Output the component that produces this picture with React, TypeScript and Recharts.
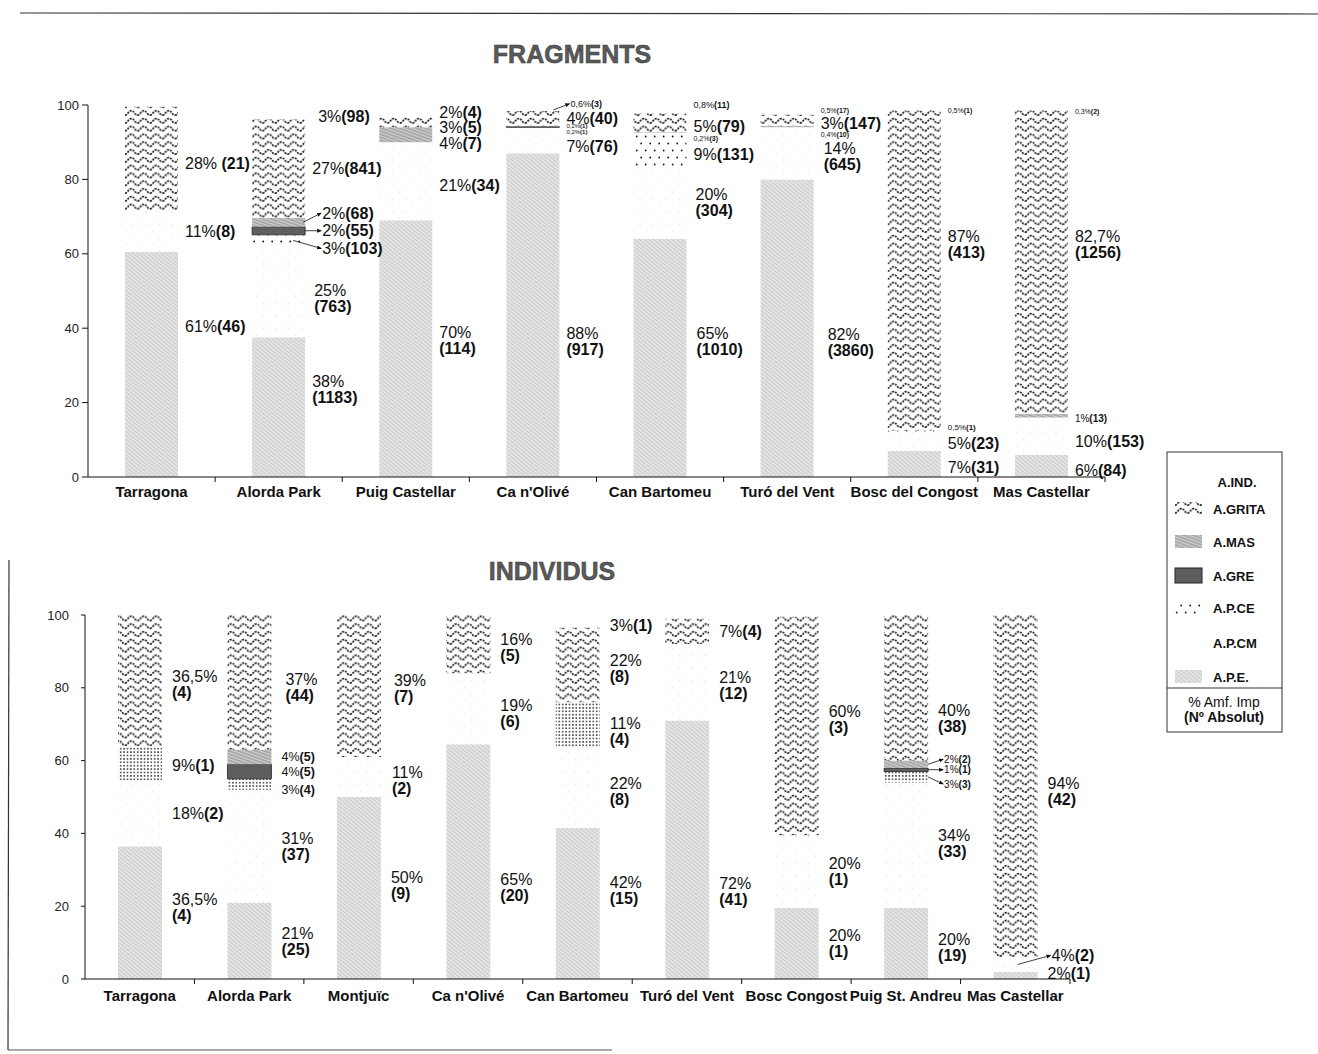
import { BarChart, Bar, XAxis, YAxis, LabelList } from 'recharts';

const FONT = '"Liberation Sans", Arial, Helvetica, sans-serif';

// FRAGMENTS
const FRAG_SITES = ['Tarragona', 'Alorda Park', 'Puig Castellar', "Ca n'Olivé", 'Can Bartomeu', 'Turó del Vent', 'Bosc del Congost', 'Mas Castellar'];
const FRAG_APE = [60.5, 37.6, 69, 87, 64, 80, 7, 6];
const FRAG_APCM = [11, 24.5, 21, 7, 19.5, 14, 5, 10];
const FRAG_APCE = [0, 3, 0, 0, 9, 0, 0.5, 0];
const FRAG_GRE = [0, 2.2, 0, 0.2, 0, 0, 0, 0];
const FRAG_MAS = [0, 2.4, 4, 0.2, 0.2, 0.4, 0, 1];
const FRAG_GRITA = [28, 26.4, 3, 4, 5, 3, 86, 81.5];
const FRAG_IND = [0, 3, 2, 0.6, 0.8, 0.5, 0.5, 0.3];

const FRAG_APE_LBL = ['61%(46)', '38%\n(1183)', '70%\n(114)', '88%\n(917)', '65%\n(1010)', '82%\n(3860)', '7%(31)', '6%(84)'];
const FRAG_APCM_LBL = ['11%(8)', '25%\n(763)', '21%(34)', '7%(76)', '20%\n(304)', '14%\n(645)', '5%(23)', '10%(153)'];
const FRAG_APCE_LBL = ['', '3%(103)', '', '', '9%(131)', '', '0,5%(1)', ''];
const FRAG_GRE_LBL = ['', '2%(55)', '', '0,2%(1)', '', '', '', ''];
const FRAG_MAS_LBL = ['', '2%(68)', '4%(7)', '0,2%(1)', '0,2%(3)', '0,4%(10)', '', '1%(13)'];
const FRAG_GRITA_LBL = ['28% (21)', '27%(841)', '3%(5)', '4%(40)', '5%(79)', '3%(147)', '87%\n(413)', '82,7%\n(1256)'];
const FRAG_IND_LBL = ['', '3%(98)', '2%(4)', '0,6%(3)', '0,8%(11)', '0,5%(17)', '0,5%(1)', '0,3%(2)'];

// INDIVIDUS
const IND_SITES = ['Tarragona', 'Alorda Park', 'Montjuïc', "Ca n'Olivé", 'Can Bartomeu', 'Turó del Vent', 'Bosc Congost', 'Puig St. Andreu', 'Mas Castellar'];
const IND_APE = [36.5, 21, 50, 64.5, 41.5, 71, 19.5, 19.5, 2];
const IND_APCM = [18, 31, 11, 19.5, 22, 21, 20, 34.5, 4];
const IND_APCE = [9.5, 3, 0, 0, 12.5, 0, 0, 3, 0];
const IND_GRE = [0, 4, 0, 0, 0, 0, 0, 1, 0];
const IND_MAS = [0, 4, 0, 0, 0, 0, 0, 2, 0];
const IND_GRITA = [36, 37, 39, 16, 20.5, 7, 60, 40, 94];
const IND_IND = [0, 0, 0, 0, 3, 0, 0, 0, 0];

const IND_APE_LBL = ['36,5%\n(4)', '21%\n(25)', '50%\n(9)', '65%\n(20)', '42%\n(15)', '72%\n(41)', '20%\n(1)', '20%\n(19)', '2%(1)'];
const IND_APCM_LBL = ['18%(2)', '31%\n(37)', '11%\n(2)', '19%\n(6)', '22%\n(8)', '21%\n(12)', '20%\n(1)', '34%\n(33)', '4%(2)'];
const IND_APCE_LBL = ['9%(1)', '3%(4)', '', '', '11%\n(4)', '', '', '3%(3)', ''];
const IND_GRE_LBL = ['', '4%(5)', '', '', '', '', '', '1%(1)', ''];
const IND_MAS_LBL = ['', '4%(5)', '', '', '', '', '', '2%(2)', ''];
const IND_GRITA_LBL = ['36,5%\n(4)', '37%\n(44)', '39%\n(7)', '16%\n(5)', '22%\n(8)', '7%(4)', '60%\n(3)', '40%\n(38)', '94%\n(42)'];
const IND_IND_LBL = ['', '', '', '', '3%(1)', '', '', '', ''];

const Y_TICKS = [0, 20, 40, 60, 80, 100];
const LEGEND_NAMES = ['A.IND.', 'A.GRITA', 'A.MAS', 'A.GRE', 'A.P.CE', 'A.P.CM', 'A.P.E.'];

type Key = 'ape' | 'apcm' | 'apce' | 'gre' | 'mas' | 'grita' | 'ind';
const STACK: Key[] = ['ape', 'apcm', 'apce', 'gre', 'mas', 'grita', 'ind'];

function buildRows(sites: string[], vals: Record<Key, number[]>, lbls: Record<Key, string[]>) {
  return sites.map((site, i) => {
    const row: Record<string, string | number> = { site };
    STACK.forEach((k) => {
      row[k] = vals[k][i];
      row[k + 'Lbl'] = lbls[k][i];
    });
    return row;
  });
}

const fragRows = buildRows(
  FRAG_SITES,
  { ape: FRAG_APE, apcm: FRAG_APCM, apce: FRAG_APCE, gre: FRAG_GRE, mas: FRAG_MAS, grita: FRAG_GRITA, ind: FRAG_IND },
  { ape: FRAG_APE_LBL, apcm: FRAG_APCM_LBL, apce: FRAG_APCE_LBL, gre: FRAG_GRE_LBL, mas: FRAG_MAS_LBL, grita: FRAG_GRITA_LBL, ind: FRAG_IND_LBL }
);
const indRows = buildRows(
  IND_SITES,
  { ape: IND_APE, apcm: IND_APCM, apce: IND_APCE, gre: IND_GRE, mas: IND_MAS, grita: IND_GRITA, ind: IND_IND },
  { ape: IND_APE_LBL, apcm: IND_APCM_LBL, apce: IND_APCE_LBL, gre: IND_GRE_LBL, mas: IND_MAS_LBL, grita: IND_GRITA_LBL, ind: IND_IND_LBL }
);

// label placement tweaks (px), keyed chart:siteIndex:series
const LABEL_DY: Record<string, number> = {
  'f:0:ape': -38, 'f:0:grita': 4,
  'f:1:ape': -18, 'f:1:apcm': 7, 'f:1:apce': 8, 'f:1:mas': -9, 'f:1:ind': 2,
  'f:2:ape': -8, 'f:2:apcm': 4, 'f:2:mas': 8, 'f:2:grita': 5,
  'f:3:ape': 26, 'f:3:apcm': 6, 'f:3:gre': 5, 'f:3:ind': -6,
  'f:4:ape': -17, 'f:4:apce': 5, 'f:4:mas': 6, 'f:4:grita': 3, 'f:4:ind': -7,
  'f:5:ape': 14, 'f:5:apcm': 3, 'f:5:mas': 8, 'f:5:grita': 3, 'f:5:ind': -3,
  'f:6:ape': 3, 'f:6:apcm': 2, 'f:6:apce': -4, 'f:6:grita': -26, 'f:6:ind': 1,
  'f:7:ape': 4, 'f:7:apcm': 5, 'f:7:mas': 3, 'f:7:grita': -18, 'f:7:ind': 1,
  'i:0:grita': 4, 'i:0:apce': 2, 'i:0:ape': -5,
  'i:1:grita': 5, 'i:1:apce': 5,
  'i:2:apcm': 3, 'i:2:ape': -3, 'i:2:grita': 2,
  'i:3:grita': 3, 'i:3:apcm': 5, 'i:3:ape': 26,
  'i:4:ape': -13, 'i:4:apcm': 3, 'i:4:apce': 6, 'i:4:grita': 3, 'i:4:ind': 3,
  'i:5:ape': 41, 'i:5:apcm': 3,
  'i:6:grita': -7,
  'i:7:ape': 4, 'i:7:apcm': -2, 'i:7:apce': 7, 'i:7:mas': -5, 'i:7:grita': 30,
  'i:8:ape': -2, 'i:8:apcm': -9, 'i:8:grita': 5,
};
const LABEL_DX: Record<string, number> = {
  'f:1:ind': 6, 'f:1:apcm': 2, 'f:4:ape': 3, 'f:4:apcm': 2, 'f:5:ape': 7, 'f:5:apcm': 3,
  'i:1:grita': 4, 'i:2:grita': 3, 'i:2:apcm': 1, 'i:7:mas': -4, 'i:7:gre': -4, 'i:7:apce': -4,
  'i:8:apcm': -6, 'f:3:ind': -6,
};
const LABEL_SIZE: Record<string, number> = {
  'f:3:ind': 9, 'f:3:gre': 6, 'f:3:mas': 6, 'f:4:ind': 9, 'f:4:mas': 7, 'f:5:ind': 7, 'f:5:mas': 7,
  'f:6:ind': 7, 'f:6:apce': 8, 'f:7:ind': 7, 'f:7:mas': 10,
  'i:1:mas': 12.5, 'i:1:gre': 12.5, 'i:1:apce': 12.5, 'i:7:mas': 10, 'i:7:gre': 10, 'i:7:apce': 10,
};
// arrows: value = how far inside the bar the arrow starts
const LABEL_ARROW: Record<string, number> = {
  'f:1:mas': 2, 'f:1:gre': 0, 'f:1:apce': 12, 'f:3:ind': 6,
  'i:7:mas': 0, 'i:7:gre': 0, 'i:7:apce': 0, 'i:8:apcm': 20,
};

function Patterns({ p, dense }: { p: string; dense?: boolean }) {
  return (
    <defs>
      <pattern id={`${p}-ape`} width="4" height="3" patternUnits="userSpaceOnUse" patternTransform="rotate(40)">
        <rect width="4" height="3" fill="#e4e4e4" />
        <rect width="4" height="1" fill="#cbcbcb" />
      </pattern>
      <pattern id={`${p}-mas`} width="4" height="3" patternUnits="userSpaceOnUse" patternTransform="rotate(20)">
        <rect width="4" height="3" fill="#a9a9a9" />
        <rect width="4" height="1" fill="#d2d2d2" />
      </pattern>
      <pattern id={`${p}-apcm`} width="13" height="13" patternUnits="userSpaceOnUse">
        <rect width="13" height="13" fill="#ffffff" />
        <circle cx="3" cy="4" r="0.6" fill="#d4d4d4" />
        <circle cx="9.5" cy="10" r="0.6" fill="#dedede" />
      </pattern>
      {dense ? (
        <pattern id={`${p}-apce`} width="3.4" height="3.4" patternUnits="userSpaceOnUse">
          <rect width="3.4" height="3.4" fill="#ffffff" />
          <circle cx="1.7" cy="1.7" r="0.8" fill="#111" />
        </pattern>
      ) : (
        <pattern id={`${p}-apce`} width="9" height="14" patternUnits="userSpaceOnUse">
          <rect width="9" height="14" fill="#ffffff" />
          <circle cx="2.2" cy="3.5" r="0.9" fill="#111" />
          <circle cx="6.7" cy="10.5" r="0.9" fill="#111" />
        </pattern>
      )}
      <pattern id={`${p}-grita`} width="12.5" height="7.8" patternUnits="userSpaceOnUse">
        <rect width="12.5" height="7.8" fill="#ffffff" />
        <path
          d="M0,6 C3,6 3,1.6 6.25,1.6 C9.5,1.6 9.5,6 12.5,6"
          fill="none"
          stroke="#111"
          strokeWidth={1.6}
          strokeDasharray="2 1.1"
        />
      </pattern>
      <marker id={`${p}-arr`} markerWidth="6" markerHeight="6" refX="5" refY="3" orient="auto">
        <path d="M0,0.5 L6,3 L0,5.5z" fill="#111" />
      </marker>
    </defs>
  );
}

function LabelText({ x, cy, size, lines }: { x: number; cy: number; size: number; lines: string[] }) {
  const lh = size;
  const y0 = cy - ((lines.length - 1) * lh) / 2;
  return (
    <>
      {lines.map((ln, j) => {
        const m = ln.match(/^(.*?)(\(.*\))?$/) || [ln, ln, ''];
        return (
          <text key={j} x={x} y={y0 + j * lh} dy="0.36em" fontSize={size} fontFamily={FONT} fill="#111">
            <tspan>{m[1]}</tspan>
            {m[2] ? <tspan fontWeight="bold">{m[2]}</tspan> : null}
          </text>
        );
      })}
    </>
  );
}

function makeLabel(chart: string, series: Key, gap: number, left: number, band: number) {
  return (props: any) => {
    const { value } = props;
    if (!value) return null;
    const vb = props.viewBox ?? props;
    const x = Number(vb.x);
    const y = Number(vb.y);
    const w = Number(vb.width);
    const h = Number(vb.height);
    // site index from the bar's own position in its band
    const idx = Math.floor((x + w / 2 - left) / band);
    const key = `${chart}:${idx}:${series}`;
    const size = LABEL_SIZE[key] ?? 16;
    const arrow = LABEL_ARROW[key];
    const hasArrow = arrow !== undefined;
    const lx = x + w + gap + (hasArrow ? 10 : 0) + (LABEL_DX[key] ?? 0);
    const cy = y + h / 2 + (LABEL_DY[key] ?? 0);
    return (
      <g>
        {hasArrow ? (
          <line
            x1={x + w - arrow}
            y1={y + h / 2}
            x2={lx - 1}
            y2={cy}
            stroke="#111"
            strokeWidth={0.8}
            markerEnd={`url(#${chart}-arr)`}
          />
        ) : null}
        <LabelText x={lx} cy={cy} size={size} lines={String(value).split('\n')} />
      </g>
    );
  };
}

function CatTick(props: any) {
  const { x, y, payload, band, labelDy } = props;
  const bx = x + band / 2;
  return (
    <g>
      <line x1={bx} x2={bx} y1={y - 4} y2={y + 1} stroke="#111" strokeWidth={1} />
      <text x={x} y={y + labelDy} textAnchor="middle" fontSize={15} fontWeight="bold" fontFamily={FONT} fill="#111">
        {payload.value}
      </text>
    </g>
  );
}

function StackChart(props: {
  id: string;
  rows: Record<string, string | number>[];
  width: number;
  height: number;
  margin: { top: number; right: number; bottom: number; left: number };
  barSize: number;
  gap: number;
  yTickMargin: number;
  yTickSize: number;
  labelDy: number;
  dense?: boolean;
}) {
  const { id, rows, width, height, margin, barSize, gap, yTickMargin, yTickSize, labelDy, dense } = props;
  const yAxisWidth = 60;
  const left = margin.left + yAxisWidth;
  const band = (width - margin.right - left) / rows.length;
  return (
    <BarChart width={width} height={height} data={rows} margin={margin} barSize={barSize}>
      <Patterns p={id} dense={dense} />
      <XAxis
        dataKey="site"
        interval={0}
        height={30}
        tickLine={false}
        tickSize={4}
        tickMargin={0}
        axisLine={{ stroke: '#111', strokeWidth: 1 }}
        tick={(p: any) => <CatTick {...p} band={band} labelDy={labelDy} />}
      />
      <YAxis
        type="number"
        domain={[0, 100]}
        ticks={Y_TICKS}
        width={yAxisWidth}
        tickSize={yTickSize}
        tickMargin={yTickMargin}
        axisLine={{ stroke: '#111', strokeWidth: 1 }}
        tickLine={{ stroke: '#111' }}
        tick={{ fontSize: 13, fill: '#222', fontFamily: FONT }}
      />
      {STACK.map((k) => (
        <Bar
          key={k}
          dataKey={k}
          stackId="s"
          isAnimationActive={false}
          fill={k === 'gre' ? '#5e5e5e' : k === 'ind' ? 'none' : `url(#${id}-${k})`}
          stroke={k === 'gre' ? '#222' : 'none'}
          strokeWidth={k === 'gre' ? 0.8 : 0}
        >
          <LabelList dataKey={k + 'Lbl'} content={makeLabel(id, k, gap, left, band)} />
        </Bar>
      ))}
    </BarChart>
  );
}

const LEGEND_Y = [482, 509, 542, 576, 608, 643, 677];

function LegendBox() {
  const sw = (name: string, y: number) => {
    const x = 1175;
    if (name === 'A.GRITA') return <rect x={x} y={y - 7} width={27} height={13} fill="url(#lg-grita)" />;
    if (name === 'A.MAS') return <rect x={x} y={y - 7} width={27} height={13} fill="url(#lg-mas)" />;
    if (name === 'A.GRE') return <rect x={x} y={y - 8} width={27} height={15} fill="#5e5e5e" stroke="#222" strokeWidth={1} />;
    if (name === 'A.P.CE') return <rect x={x} y={y - 7} width={27} height={13} fill="url(#lg-apce)" />;
    if (name === 'A.P.E.') return <rect x={x} y={y - 7} width={27} height={13} fill="url(#lg-ape)" />;
    return null;
  };
  return (
    <svg width={1318} height={1054} style={{ position: 'absolute', left: 0, top: 0 }}>
      <Patterns p="lg" />
      {/* page frame from the scan */}
      <line x1={20} y1={13} x2={1318} y2={14} stroke="#333" strokeWidth={1.2} />
      <line x1={9} y1={560} x2={8} y2={1050} stroke="#333" strokeWidth={1.2} />
      <line x1={8} y1={1050} x2={612} y2={1050} stroke="#555" strokeWidth={1.2} />
      <text x={572} y={63} textAnchor="middle" fontSize={25} fontWeight="bold" fontFamily={FONT} fill="#5a5a5a" stroke="#333" strokeWidth={0.5}>
        FRAGMENTS
      </text>
      <text x={552} y={580} textAnchor="middle" fontSize={25} fontWeight="bold" fontFamily={FONT} fill="#5a5a5a" stroke="#333" strokeWidth={0.5}>
        INDIVIDUS
      </text>
      <rect x={1167} y={452} width={115} height={280} fill="none" stroke="#333" strokeWidth={1} />
      <line x1={1167} y1={688} x2={1282} y2={688} stroke="#333" strokeWidth={1} />
      {LEGEND_NAMES.map((name, i) => (
        <g key={name}>
          {sw(name, LEGEND_Y[i])}
          <text
            x={name === 'A.IND.' ? 1237 : 1213}
            y={LEGEND_Y[i]}
            dy="0.36em"
            textAnchor={name === 'A.IND.' ? 'middle' : 'start'}
            fontSize={13}
            fontWeight="bold"
            fontFamily={FONT}
            fill="#111"
          >
            {name}
          </text>
        </g>
      ))}
      <text x={1224} y={702} dy="0.36em" textAnchor="middle" fontSize={14} fontFamily={FONT} fill="#111">
        % Amf. Imp
      </text>
      <text x={1224} y={717} dy="0.36em" textAnchor="middle" fontSize={14} fontWeight="bold" fontFamily={FONT} fill="#111">
        (Nº Absolut)
      </text>
    </svg>
  );
}

export default function App() {
  return (
    <div style={{ position: 'absolute', left: 0, top: 0, width: 1318, height: 1054, background: '#fff', fontFamily: FONT }}>
      <LegendBox />
      <div style={{ position: 'absolute', left: 0, top: 0 }}>
        <StackChart
          id="f"
          rows={fragRows}
          width={1165}
          height={520}
          margin={{ top: 105, right: 60, bottom: 13, left: 28 }}
          barSize={53}
          gap={7}
          yTickMargin={3}
          yTickSize={6}
          labelDy={16}
        />
      </div>
      <div style={{ position: 'absolute', left: 0, top: 560 }}>
        <StackChart
          id="i"
          rows={indRows}
          width={1150}
          height={470}
          margin={{ top: 55, right: 80, bottom: 21, left: 25 }}
          barSize={44}
          gap={10}
          yTickMargin={12}
          yTickSize={4}
          labelDy={18}
          dense
        />
      </div>
    </div>
  );
}
